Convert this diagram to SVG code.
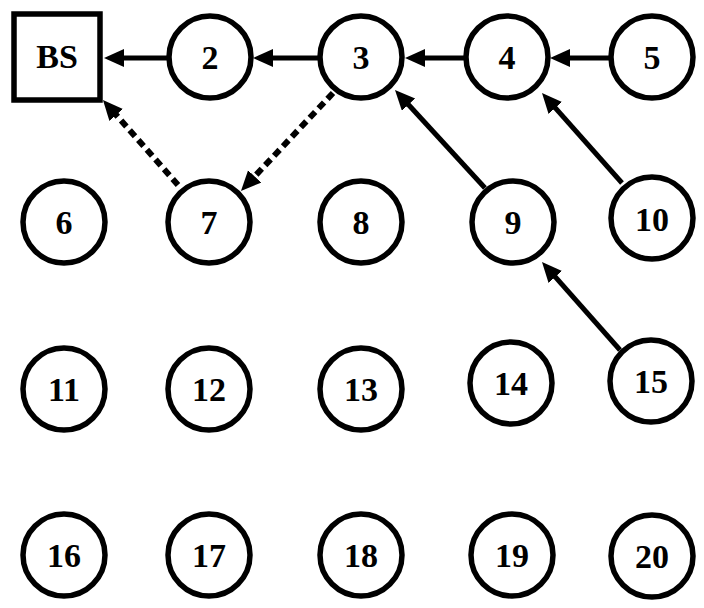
<svg xmlns="http://www.w3.org/2000/svg" width="704" height="608" viewBox="0 0 704 608">
<style>
.n{fill:#fff;stroke:#000;stroke-width:5.5}
.t{font-family:"Liberation Serif","Times New Roman",serif;font-weight:bold;font-size:34px;text-anchor:middle;fill:#000}
.e{stroke:#000;stroke-width:5;fill:none;marker-end:url(#ah)}
.d{stroke:#000;stroke-width:6;fill:none;stroke-dasharray:8 5;marker-end:url(#ah)}
</style>
<defs>
<marker id="ah" markerUnits="userSpaceOnUse" markerWidth="22" markerHeight="20" refX="3" refY="9" orient="auto">
<path d="M0,0 L20,9 L0,18 z" fill="#000"/>
</marker>
</defs>
<rect width="704" height="608" fill="#fff"/>
<g id="connectors">
<line class="e" x1="167" y1="58" x2="121" y2="58"/>
<line class="e" x1="319" y1="58" x2="270" y2="58"/>
<line class="e" x1="464" y1="58" x2="422" y2="58"/>
<line class="e" x1="609" y1="58" x2="567" y2="58"/>
<line class="e" x1="485" y1="188" x2="406.5" y2="102.5"/>
<line class="e" x1="622" y1="183" x2="553.3" y2="105.7"/>
<line class="e" x1="620" y1="350" x2="553.3" y2="274.7"/>
<line class="d" x1="178" y1="185" x2="114.2" y2="112.7"/>
<line class="d" x1="333" y1="93" x2="252.6" y2="178.6"/>
</g>
<g id="BS"><rect class="n" x="14" y="14" width="86" height="86"/><text class="t" x="57" y="68">BS</text></g>
<g id="n2"><circle class="n" cx="210" cy="57" r="41"/><text class="t" x="210" y="69">2</text></g>
<g id="n3"><circle class="n" cx="361" cy="57" r="41"/><text class="t" x="361" y="69">3</text></g>
<g id="n4"><circle class="n" cx="507" cy="57" r="41"/><text class="t" x="507" y="69">4</text></g>
<g id="n5"><circle class="n" cx="652" cy="57" r="41"/><text class="t" x="652" y="69">5</text></g>
<g id="n6"><circle class="n" cx="64" cy="222" r="41"/><text class="t" x="64" y="234">6</text></g>
<g id="n7"><circle class="n" cx="209" cy="222" r="41"/><text class="t" x="209" y="234">7</text></g>
<g id="n8"><circle class="n" cx="361" cy="222" r="41"/><text class="t" x="361" y="234">8</text></g>
<g id="n9"><circle class="n" cx="513" cy="222" r="41"/><text class="t" x="513" y="234">9</text></g>
<g id="n10"><circle class="n" cx="652" cy="218" r="41"/><text class="t" x="652" y="231">10</text></g>
<g id="n11"><circle class="n" cx="64" cy="389" r="41"/><text class="t" x="64" y="401">11</text></g>
<g id="n12"><circle class="n" cx="209" cy="389" r="41"/><text class="t" x="209" y="401">12</text></g>
<g id="n13"><circle class="n" cx="361" cy="389" r="41"/><text class="t" x="361" y="401">13</text></g>
<g id="n14"><circle class="n" cx="511" cy="383" r="41"/><text class="t" x="511" y="395">14</text></g>
<g id="n15"><circle class="n" cx="651" cy="381" r="41"/><text class="t" x="651" y="393">15</text></g>
<g id="n16"><circle class="n" cx="64" cy="555" r="41"/><text class="t" x="64" y="567">16</text></g>
<g id="n17"><circle class="n" cx="209" cy="555" r="41"/><text class="t" x="209" y="567">17</text></g>
<g id="n18"><circle class="n" cx="361" cy="555" r="41"/><text class="t" x="361" y="567">18</text></g>
<g id="n19"><circle class="n" cx="512" cy="555" r="41"/><text class="t" x="512" y="567">19</text></g>
<g id="n20"><circle class="n" cx="652" cy="556" r="41"/><text class="t" x="652" y="568">20</text></g>
</svg>
